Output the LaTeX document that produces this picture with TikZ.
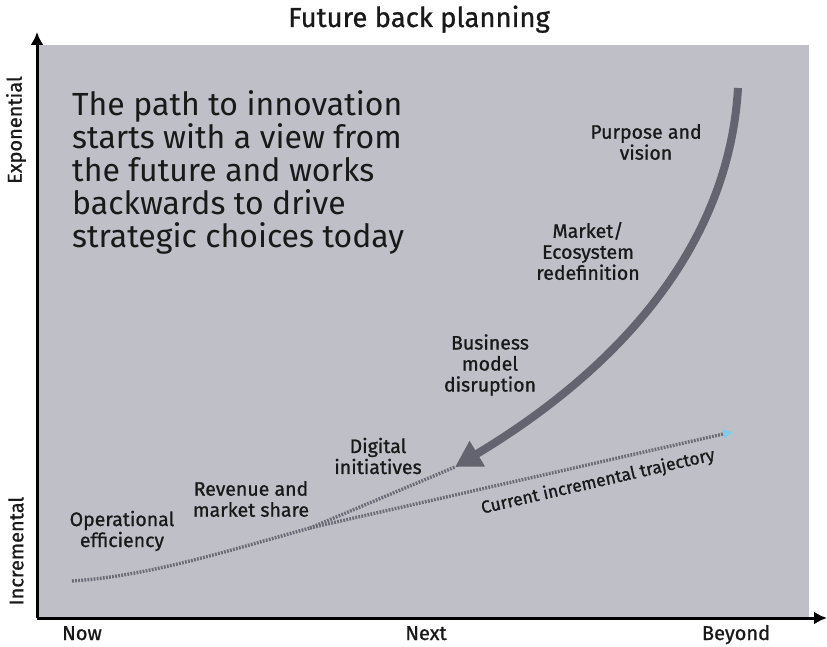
\documentclass[tikz,border=0pt]{standalone}
\usepackage{fontspec}
\setmainfont{Fira Sans}
\newfontfamily\stagefont{Fira Sans}[FakeBold=0.9]
\usepackage{tikz}
\usetikzlibrary{arrows.meta}
\usepackage{xcolor}
\definecolor{panelgray}{RGB}{191,191,200}
\definecolor{arrowgray}{RGB}{100,100,112}
\definecolor{dotgray}{RGB}{108,108,120}
\definecolor{tipblue}{RGB}{125,205,235}
\definecolor{inkblack}{RGB}{25,25,25}
\tikzstyle{axis}=[line width=3pt,-{Latex[length=13pt,width=13pt]}]
\tikzstyle{stage}=[align=center,text=inkblack,font=\stagefont\fontsize{19.5}{21}\selectfont]
\tikzstyle{tick}=[anchor=base,text=inkblack,font=\stagefont\fontsize{20}{22}\selectfont]
\tikzstyle{dotted trail}=[line width=3.4pt,dotgray,dash pattern=on 1.8pt off 1.3pt]
\begin{document}
\begin{tikzpicture}[x=1pt,y=-1pt]
	\useasboundingbox (0,0) rectangle (827,647);
	\fill[panelgray] (37,45) rectangle (809,618);
	\coordinate (origin) at (37,618);
	\coordinate (ytop) at (37,32);
	\coordinate (xend) at (827,618);
	\draw[axis] (origin) -- (ytop);
	\draw[axis] (origin) -- (xend);
	\node[anchor=base,text=inkblack,font=\stagefont\fontsize{27.5}{30}\selectfont] (title) at (419,27) {Future back planning};
	\node[rotate=90,text=inkblack,font=\stagefont\fontsize{20}{22}\selectfont] (expo) at (16,130) {Exponential};
	\node[rotate=90,text=inkblack,font=\stagefont\fontsize{20}{22}\selectfont] (incr) at (16,551) {Incremental};
	\node[tick] (now) at (82,640) {Now};
	\node[tick] (next) at (426,640) {Next};
	\node[tick] (beyond) at (736,640) {Beyond};
	\node[anchor=west,align=left,inner sep=0pt,text=inkblack,font=\fontsize{32}{33}\selectfont] (claim) at (72,172) {The path to innovation\\starts with a view from\\the future and works\\backwards to drive\\strategic choices today};
	% current trajectory and the digital branch
	\coordinate (start) at (72,581);
	\coordinate (split) at (310,528);
	\coordinate (digital) at (455,467);
	\coordinate (trend) at (732,432);
	\draw[dotted trail] (start) .. controls (150,576) and (230,550) .. (split);
	\draw[dotted trail] (split) -- (digital);
	\draw[dotted trail,-{Triangle[length=9pt,width=9pt,tipblue]}] (split) -- (trend);
	% the way back from the future
	\coordinate (vision) at (738,88);
	\draw[arrowgray,line width=8pt,-{Triangle[length=26pt,width=28pt]}] (vision) .. controls (728,260) and (600,380) .. (digital);
	\node[stage] (purpose) at (646,142) {Purpose and\\vision};
	\node[stage] (market) at (588,251) {Market/\\Ecosystem\\redefinition};
	\node[stage] (business) at (490,365) {Business\\model\\disruption};
	\node[stage] (digi) at (378,456) {Digital\\initiatives};
	\node[stage] (revenue) at (251,499) {Revenue and\\market share};
	\node[stage] (operational) at (122,531) {Operational\\efficiency};
	\node[rotate=13,text=inkblack,font=\stagefont\fontsize{17.5}{21}\selectfont] (current) at (598,482) {Current incremental trajectory};
\end{tikzpicture}
\end{document}
